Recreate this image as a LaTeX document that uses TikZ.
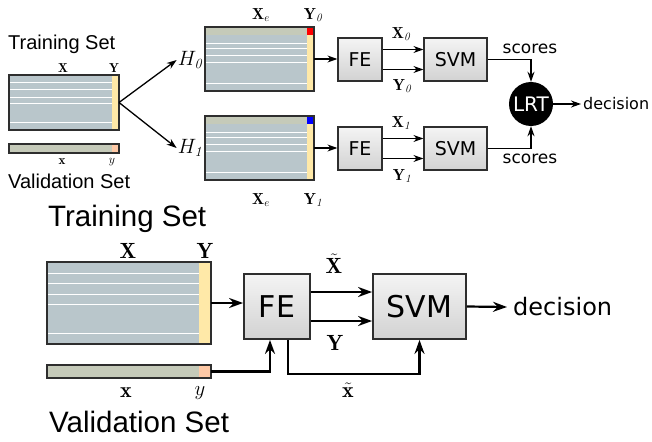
\documentclass[tikz,border=0pt]{standalone}
\usepackage{fontspec}
\usetikzlibrary{arrows.meta,positioning,calc}
\newfontfamily\titlefont{Liberation Sans}
\newfontfamily\blockfont{DejaVu Sans}
\definecolor{Frame}{HTML}{2E2E2E}
\definecolor{DataBlue}{HTML}{B9C6CB}
\definecolor{DataGreen}{HTML}{C5CAB9}
\definecolor{LabelYel}{HTML}{FFE9A8}
\definecolor{LabelPeach}{HTML}{FFC9A6}
\definecolor{BoxTop}{HTML}{F4F4F4}
\definecolor{BoxBot}{HTML}{D2D2D2}
\tikzset{
  >=Stealth,
  datamat/.style={draw=Frame,line width=1.3pt,fill=DataBlue,inner sep=0pt,outer sep=0pt},
  valbar/.style={datamat,fill=DataGreen},
  stripe/.style={draw=white,line width=.9pt},
  blk/.style={draw=Frame,line width=1.2pt,top color=BoxTop,bottom color=BoxBot,inner sep=0pt,font=\blockfont\fontsize{19}{22}\selectfont},
  bigblk/.style={blk,line width=1.8pt,font=\blockfont\fontsize{30}{34}\selectfont},
  lrtnode/.style={circle,fill=black,text=white,minimum size=44pt,inner sep=0pt,font=\blockfont\fontsize{20}{24}\selectfont},
  flow/.style={-{Stealth[length=10pt,width=7pt]},line width=1.3pt},
  bigflow/.style={-{Stealth[length=14pt,width=10pt]},line width=2.2pt},
  sml/.style={inner sep=0pt,font=\fontsize{13}{15}\selectfont},
  mlab/.style={inner sep=0pt,font=\fontsize{16}{18}\selectfont},
  biglab/.style={inner sep=0pt,font=\fontsize{22}{26}\selectfont},
  word/.style={inner sep=0pt,font=\blockfont\fontsize{17}{20}\selectfont},
  bigword/.style={inner sep=0pt,font=\blockfont\fontsize{24}{28}\selectfont},
  setname/.style={anchor=base west,inner sep=0pt,font=\titlefont\fontsize{20}{24}\selectfont},
  bigset/.style={setname,font=\titlefont\fontsize{29.5}{34}\selectfont}
}
\begin{document}
\begin{tikzpicture}[x=1pt,y=-1pt]
  \useasboundingbox (0,0) rectangle (652,441);

  % upper panel: two hypotheses
  \node[setname] (trnA) at (8,50) {Training Set};
  \node[datamat,minimum width=110pt,minimum height=55pt] (trA) at (64,102.5) {};
  \node[sml] (lxA) at (63,68) {$\mathbf{X}$};
  \node[sml] (lyA) at (114,68) {$\mathbf{Y}$};
  \node[valbar,minimum width=110pt,minimum height=9pt] (vaA) at (64,148.5) {};
  \node[sml] (vxA) at (62,162) {$\mathbf{x}$};
  \node[sml] (vyA) at (112,162) {$y$};
  \node[setname] (valA) at (8,188) {Validation Set};

  \node[font=\fontsize{20}{22}\selectfont,inner sep=1pt] (hypA) at (190,60) {$H_{\mathit{0}}$};
  \node[font=\fontsize{20}{22}\selectfont,inner sep=1pt] (hypB) at (190,148) {$H_{\mathit{1}}$};
  \node[datamat,minimum width=109pt,minimum height=64pt] (hA) at (259.5,59) {};
  \node[datamat,minimum width=109pt,minimum height=64pt] (hB) at (259.5,148) {};
  \node[mlab] (xeA) at (261,15) {$\mathbf{X}_e$};
  \node[mlab] (yA) at (313,15) {$\mathbf{Y}_{\mathit{0}}$};
  \node[mlab] (xeB) at (261,200) {$\mathbf{X}_e$};
  \node[mlab] (yB) at (313,200) {$\mathbf{Y}_{\mathit{1}}$};

  \node[blk,minimum width=44pt,minimum height=43pt] (feA) at (360,59.5) {FE};
  \node[blk,minimum width=44pt,minimum height=43pt] (feB) at (360,148.5) {FE};
  \node[blk,minimum width=63pt,minimum height=43pt] (svA) at (455.5,59.5) {SVM};
  \node[blk,minimum width=63pt,minimum height=43pt] (svB) at (455.5,148.5) {SVM};
  \node[mlab] (x0) at (401,34) {$\mathbf{X}_{\mathit{0}}$};
  \node[mlab] (y0) at (402,86) {$\mathbf{Y}_{\mathit{0}}$};
  \node[mlab] (x1) at (401,123) {$\mathbf{X}_{\mathit{1}}$};
  \node[mlab] (y1) at (402,176) {$\mathbf{Y}_{\mathit{1}}$};
  \node[lrtnode] (lrt) at (531,104) {LRT};
  \node[word] (scA) at (530,49) {scores};
  \node[word] (scB) at (530,159) {scores};
  \node[word,anchor=west,font=\blockfont\fontsize{16}{19}\selectfont] (decA) at (583,104) {decision};

  % lower panel: single model
  \node[bigset] (trnB) at (48,226) {Training Set};
  \node[datamat,line width=1.8pt,minimum width=164pt,minimum height=82pt] (trB) at (129,303) {};
  \node[biglab] (lxB) at (128,251) {$\mathbf{X}$};
  \node[biglab] (lyB) at (205,251) {$\mathbf{Y}$};
  \node[valbar,line width=1.8pt,minimum width=164pt,minimum height=13pt] (vaB) at (129,371.5) {};
  \node[biglab] (vxB) at (126,393) {$\mathbf{x}$};
  \node[biglab] (vyB) at (200,393) {$y$};
  \node[bigset] (valB) at (49,432) {Validation Set};

  \node[bigblk,minimum width=66pt,minimum height=65pt] (feC) at (277,306.5) {FE};
  \node[bigblk,minimum width=93pt,minimum height=65pt] (svC) at (419.5,306.5) {SVM};
  \node[biglab] (xtC) at (334,264) {$\tilde{\mathbf{X}}$};
  \node[biglab] (ytC) at (335,343) {$\mathbf{Y}$};
  \node[biglab] (xbC) at (348,390) {$\tilde{\mathbf{x}}$};
  \node[bigword,anchor=west] (decB) at (513,307) {decision};

  % inside of the data blocks
  \foreach \m/\c/\lw in {trA/7.5/1.3,trB/12/1.8}{
    \fill[LabelYel] ($(\m.north east)+(-\c,0)$) rectangle (\m.south east);
    \foreach \f in {.14,.26,.4,.52,.87}
      \draw[stripe] ($(\m.north west)!\f!(\m.south west)$) -- ($(\m.north east)!\f!(\m.south east)+(-\c,0)$);
    \draw[Frame,line width=\lw pt] (\m.north west) rectangle (\m.south east);
  }
  \foreach \m/\mk in {hA/red,hB/blue}{
    \fill[DataGreen] (\m.north west) rectangle ($(\m.north east)+(0,8)$);
    \fill[\mk] ($(\m.north east)+(-7,0)$) rectangle ($(\m.north east)+(0,8)$);
    \fill[LabelYel] ($(\m.north east)+(-7,8)$) rectangle (\m.south east);
    \foreach \f in {.25,.34,.45,.55,.875}
      \draw[stripe] ($(\m.north west)!\f!(\m.south west)$) -- ($(\m.north east)!\f!(\m.south east)+(-7,0)$);
    \draw[Frame,line width=1.3pt] (\m.north west) rectangle (\m.south east);
  }
  \foreach \m/\c/\lw in {vaA/7.5/1.3,vaB/12/1.8}{
    \fill[LabelPeach] ($(\m.north east)+(-\c,0)$) rectangle (\m.south east);
    \draw[Frame,line width=\lw pt] (\m.north west) rectangle (\m.south east);
  }

  % connectors, upper panel
  \draw[flow] (trA.east) -- (hypA.west);
  \draw[flow] (trA.east) -- (hypB.west);
  \draw[flow] (hA.east) -- (hA.east -| feA.west);
  \draw[flow] (hB.east) -- (hB.east -| feB.west);
  \draw[flow] ([yshift=10pt]feA.east) -- ([yshift=10pt]svA.west);
  \draw[flow] ([yshift=-10pt]feA.east) -- ([yshift=-10pt]svA.west);
  \draw[flow] ([yshift=10pt]feB.east) -- ([yshift=10pt]svB.west);
  \draw[flow] ([yshift=-10pt]feB.east) -- ([yshift=-10pt]svB.west);
  \draw[flow] (svA.east) -| (lrt.north);
  \draw[flow] (svB.east) -| (lrt.south);
  \draw[flow] (lrt.east) -- ([xshift=-2pt]decA.west);

  % connectors, lower panel
  \draw[bigflow] (trB.east) -- (trB.east -| feC.west);
  \draw[bigflow] (vaB.east) -| ([xshift=-7pt]feC.south);
  \draw[bigflow] ([yshift=14.5pt]feC.east) -- ([yshift=14.5pt]svC.west);
  \draw[bigflow] ([yshift=-14.5pt]feC.east) -- ([yshift=-14.5pt]svC.west);
  \draw[bigflow] ([xshift=11pt]feC.south) -- ++(0,34) -| (svC.south);
  \draw[bigflow] (svC.east) -- ([xshift=-6pt]decB.west);
\end{tikzpicture}
\end{document}
